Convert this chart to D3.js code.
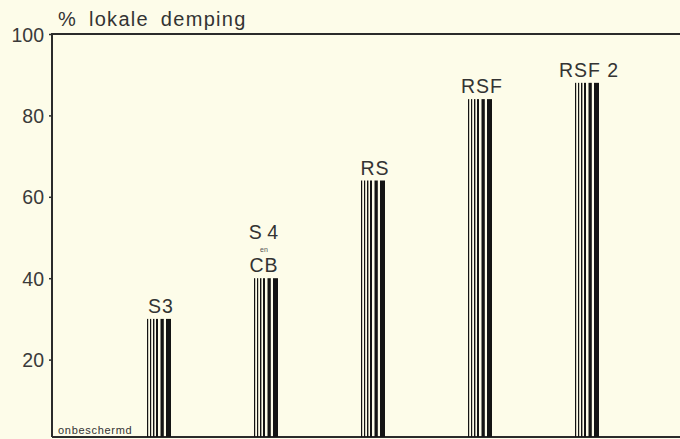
<!DOCTYPE html>
<html><head><meta charset="utf-8">
<script src="https://cdn.jsdelivr.net/npm/d3@7"></script>
<style>
html,body{margin:0;padding:0;background:#fdfce9;}
svg{display:block;font-family:"Liberation Sans",Arial,sans-serif;}
</style></head><body>
<div id="chart"></div>
<script>
const categories = ["S3", "S4|CB", "RS", "RSF", "RSF 2"];
const values = [30, 40, 64, 84, 88];
const yTicks = [20, 40, 60, 80, 100];
const yTitle = "% lokale demping";
const baseLabel = "onbeschermd";

const W = 680, H = 439;
const svg = d3.select("#chart").append("svg").attr("width", W).attr("height", H);
svg.append("rect").attr("width", W).attr("height", H).attr("fill", "#fdfce9");

const x0 = 52, xRight = 680, yBottom = 437;
const y = d3.scaleLinear().domain([0, 100]).range([441, 34]);
const x = d3.scalePoint().domain(categories).range([159, 587]);
const barW = 24;
const ink = "#2b2b2b";

// top border line
svg.append("line").attr("x1", x0).attr("x2", xRight).attr("y1", y(100)).attr("y2", y(100))
  .attr("stroke", ink).attr("stroke-width", 2);
// bottom line
svg.append("line").attr("x1", x0).attr("x2", xRight).attr("y1", yBottom).attr("y2", yBottom)
  .attr("stroke", ink).attr("stroke-width", 2);

// y axis
const yAxis = d3.axisLeft(y).tickValues(yTicks).tickSize(3).tickPadding(5);
const gy = svg.append("g").attr("transform", `translate(${x0},0)`).call(yAxis);
gy.select(".domain").remove();
svg.append("line").attr("x1", x0).attr("x2", x0).attr("y1", y(100) - 1).attr("y2", yBottom)
  .attr("stroke", ink).attr("stroke-width", 2);
gy.selectAll(".tick line").attr("stroke", ink).attr("stroke-width", 1.5);
gy.selectAll(".tick text").attr("fill", "#3a3a3a").attr("font-size", 19.5).attr("dy", "0.36em");

// title
svg.append("text").attr("x", 58).attr("y", 26).text(yTitle)
  .attr("font-size", 20).attr("fill", "#333").attr("letter-spacing", 1.3).attr("word-spacing", 5);

// baseline label
svg.append("text").attr("x", 58).attr("y", 434).text(baseLabel)
  .attr("font-size", 11).attr("fill", "#333").attr("letter-spacing", 0.7);

// striped bars
const stripes = [[0, 1.2], [3, 4.2], [6, 7.4], [9, 11], [13.5, 16.8], [19, 24]];
const bars = svg.selectAll("g.bar").data(categories.map((c, i) => ({c, v: values[i]})))
  .enter().append("g").attr("class", "bar")
  .attr("transform", d => `translate(${x(d.c) - barW / 2},0)`);
bars.selectAll("rect").data(d => stripes.map(s => ({s, v: d.v}))).enter().append("rect")
  .attr("x", d => d.s[0]).attr("width", d => d.s[1] - d.s[0])
  .attr("y", d => y(d.v)).attr("height", d => yBottom - y(d.v))
  .attr("fill", "#141414");

// labels
const lblSize = 19.5;
bars.each(function(d) {
  const g = d3.select(this);
  const parts = d.c.split("|");
  const top = y(d.v) - 6;
  if (parts.length === 1) {
    g.append("text").attr("x", barW / 2 + 2).attr("y", top).attr("text-anchor", "middle")
      .attr("font-size", lblSize).attr("fill", "#333").attr("letter-spacing", 1).text(parts[0]);
  } else {
    g.append("text").attr("x", barW / 2 - 2).attr("y", top).attr("text-anchor", "middle")
      .attr("font-size", lblSize).attr("fill", "#333").attr("letter-spacing", 1).text(parts[1]);
    g.append("text").attr("x", barW / 2 - 2).attr("y", top - 20).attr("text-anchor", "middle")
      .attr("font-size", 7).attr("fill", "#555").text("en");
    g.append("text").attr("x", barW / 2 - 2).attr("y", top - 33).attr("text-anchor", "middle")
      .attr("font-size", lblSize).attr("fill", "#333").attr("letter-spacing", 1).attr("word-spacing", -2)
      .text(parts[0].replace("S4", "S 4"));
  }
});
</script>
</body></html>
